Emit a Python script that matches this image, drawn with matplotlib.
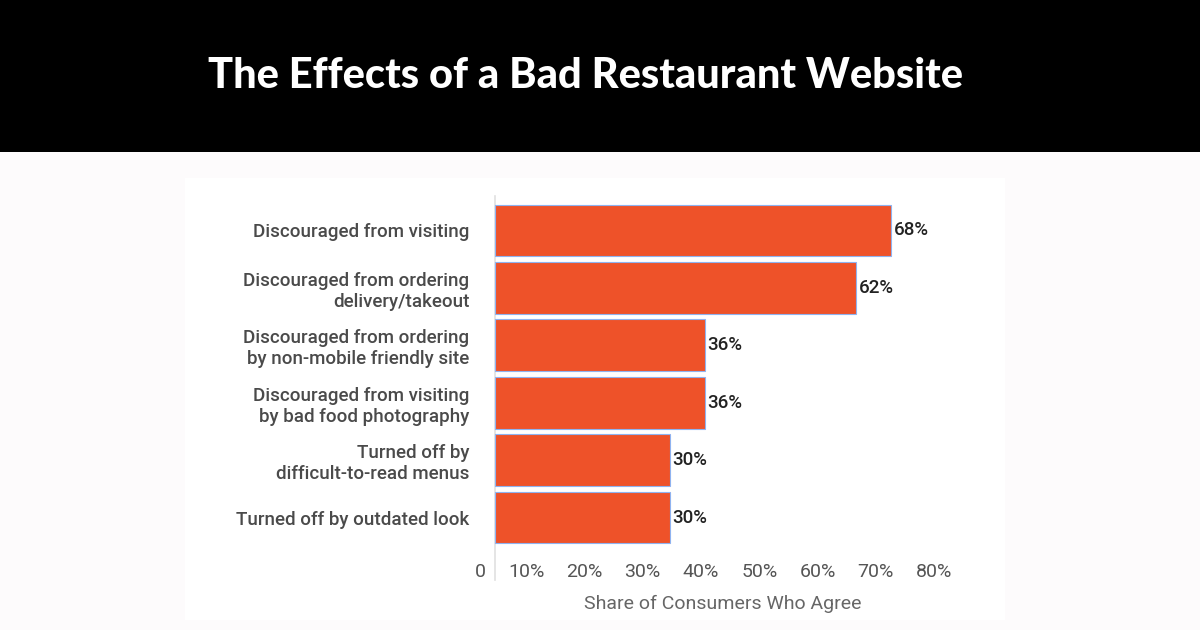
import numpy as np
import matplotlib
matplotlib.use("Agg")
import matplotlib.pyplot as plt
from matplotlib.patches import Rectangle

# data
categories = [
    "Discouraged from visiting",
    "Discouraged from ordering\ndelivery/takeout",
    "Discouraged from ordering\nby non-mobile friendly site",
    "Discouraged from visiting\nby bad food photography",
    "Turned off by\ndifficult-to-read menus",
    "Turned off by outdated look",
]
shares = [68, 62, 36, 36, 30, 30]
tick_values = [0, 10, 20, 30, 40, 50, 60, 70, 80]
tick_labels = ["0", "10%", "20%", "30%", "40%", "50%", "60%", "70%", "80%"]

title = "The Effects of a Bad Restaurant Website"
xlabel = "Share of Consumers Who Agree"

W, H = 1200, 630
fig = plt.figure(figsize=(W / 100, H / 100), dpi=100)
fig.patch.set_facecolor("#fdfbfc")

# black header band
fig.add_artist(Rectangle((0, 1 - 152 / H), 1, 152 / H, transform=fig.transFigure,
                         facecolor="black", edgecolor="none", zorder=0))
fig.text(586 / W, 1 - 76 / H, title, color="white", fontsize=30,
         fontfamily="Lato", fontweight="black", ha="center", va="center")

# white chart panel
fig.add_artist(Rectangle((185 / W, 1 - 620 / H), 820 / W, 442 / H, transform=fig.transFigure,
                         facecolor="white", edgecolor="none", zorder=0))

left, right = 486 / W, 961 / W
top, bottom = 1 - 196 / H, 1 - 552 / H
ax = fig.add_axes([left, bottom, right - left, top - bottom])
ax.set_facecolor("none")

y = np.arange(len(categories))
ax.barh(y, shares, height=0.9, color="#ee5229", edgecolor="#8fb3f0", linewidth=0.8)
ax.set_xlim(0, 80)
ax.set_ylim(len(categories) - 0.4, -0.6)

for yi, v in zip(y, shares):
    ax.text(v + 0.4, yi, f"{v}%", va="center", ha="left", fontsize=13.5,
            fontfamily="Roboto", fontweight="medium", color="#222222")

ax.set_yticks(y)
ax.set_yticklabels(categories, fontsize=13.5, fontfamily="Roboto", fontweight="medium",
                   color="#4a4a4a", ha="right", multialignment="right", linespacing=1.2)
ax.tick_params(axis="y", length=0, pad=12)

# tick labels sit right-aligned slightly left of their grid value, as in the source
ax.set_xticks([t - 1.5 for t in tick_values])
ax.set_xticklabels(tick_labels, fontsize=14, fontfamily="Roboto", color="#555555", ha="right")
ax.tick_params(axis="x", length=0, pad=8)

for s in ["top", "right", "bottom", "left"]:
    ax.spines[s].set_visible(False)
ax.axvline(0, ymin=-0.08, ymax=1.0, color="#e0e0e0", linewidth=1.2, clip_on=False, zorder=0)

ax.set_xlabel(xlabel, fontsize=14, fontfamily="Roboto", color="#666666")
ax.xaxis.set_label_coords((723 - 486) / (961 - 486), -0.12)

fig.savefig("out.png", dpi=100, facecolor=fig.get_facecolor())
